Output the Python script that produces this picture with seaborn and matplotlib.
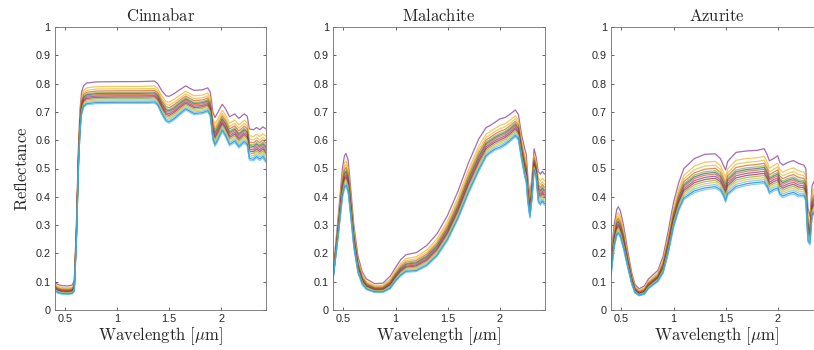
# Reflectance spectra of three pigments (MATLAB-style figure redrawn with seaborn)
import numpy as np
import pandas as pd
import matplotlib
matplotlib.use('Agg')
import matplotlib.pyplot as plt
import seaborn as sns

# upper / lower envelope of each bundle of spectra
cinnabar_wl = [0.40, 0.43, 0.47, 0.53, 0.57, 0.59, 0.61, 0.63, 0.645, 0.66, 0.68, 0.71, 0.80, 1.00,
               1.20, 1.30, 1.36, 1.39, 1.43, 1.47, 1.50, 1.55, 1.60, 1.66, 1.70, 1.74, 1.82, 1.87,
               1.895, 1.92, 1.94, 1.97, 2.01, 2.04, 2.08, 2.13, 2.17, 2.22, 2.25, 2.27, 2.31, 2.34,
               2.37, 2.40, 2.43]
cinnabar_hi = [0.100, 0.090, 0.086, 0.085, 0.088, 0.105, 0.300, 0.580, 0.710, 0.770, 0.793, 0.802,
               0.806, 0.807, 0.807, 0.808, 0.809, 0.800, 0.775, 0.757, 0.755, 0.765, 0.778, 0.792,
               0.783, 0.776, 0.778, 0.785, 0.770, 0.700, 0.680, 0.700, 0.727, 0.712, 0.683, 0.693,
               0.677, 0.693, 0.685, 0.640, 0.637, 0.645, 0.637, 0.647, 0.640]
cinnabar_lo = [0.068, 0.060, 0.056, 0.055, 0.057, 0.065, 0.240, 0.500, 0.630, 0.690, 0.716, 0.725,
               0.729, 0.730, 0.730, 0.730, 0.731, 0.722, 0.690, 0.665, 0.660, 0.672, 0.688, 0.706,
               0.698, 0.690, 0.693, 0.700, 0.684, 0.600, 0.578, 0.598, 0.630, 0.612, 0.580, 0.592,
               0.572, 0.590, 0.580, 0.530, 0.527, 0.537, 0.528, 0.537, 0.520]

malachite_wl = [0.40, 0.45, 0.49, 0.51, 0.525, 0.545, 0.57, 0.60, 0.64, 0.68, 0.72, 0.80, 0.88, 0.95,
                1.00, 1.05, 1.10, 1.20, 1.30, 1.40, 1.50, 1.60, 1.70, 1.80, 1.87, 1.90, 1.95, 2.00,
                2.05, 2.10, 2.15, 2.18, 2.21, 2.24, 2.255, 2.27, 2.29, 2.31, 2.33, 2.35, 2.37, 2.39,
                2.41, 2.43]
malachite_hi = [0.130, 0.330, 0.500, 0.545, 0.553, 0.530, 0.430, 0.300, 0.190, 0.135, 0.110, 0.093,
                0.095, 0.120, 0.150, 0.178, 0.195, 0.203, 0.228, 0.270, 0.335, 0.420, 0.520, 0.605,
                0.645, 0.650, 0.662, 0.675, 0.680, 0.692, 0.707, 0.690, 0.620, 0.570, 0.550, 0.470,
                0.400, 0.470, 0.570, 0.540, 0.490, 0.480, 0.490, 0.480]
malachite_lo = [0.105, 0.260, 0.395, 0.428, 0.435, 0.415, 0.330, 0.220, 0.130, 0.090, 0.072, 0.062,
                0.062, 0.075, 0.100, 0.120, 0.133, 0.136, 0.155, 0.190, 0.245, 0.320, 0.410, 0.490,
                0.540, 0.550, 0.563, 0.570, 0.580, 0.595, 0.612, 0.600, 0.530, 0.470, 0.450, 0.380,
                0.325, 0.390, 0.490, 0.465, 0.380, 0.370, 0.380, 0.370]

azurite_wl = [0.40, 0.43, 0.455, 0.47, 0.49, 0.52, 0.56, 0.60, 0.63, 0.67, 0.72, 0.76, 0.85, 0.90,
              0.95, 1.00, 1.05, 1.10, 1.20, 1.30, 1.40, 1.45, 1.48, 1.50, 1.52, 1.60, 1.70, 1.80,
              1.87, 1.90, 1.92, 1.96, 2.00, 2.02, 2.05, 2.10, 2.15, 2.20, 2.25, 2.27, 2.29, 2.31,
              2.33, 2.35, 2.37, 2.40, 2.43]
azurite_hi = [0.190, 0.300, 0.355, 0.365, 0.350, 0.300, 0.210, 0.130, 0.090, 0.075, 0.085, 0.110,
              0.140, 0.190, 0.280, 0.380, 0.450, 0.500, 0.535, 0.550, 0.552, 0.535, 0.510, 0.495,
              0.525, 0.557, 0.562, 0.564, 0.570, 0.548, 0.527, 0.535, 0.545, 0.522, 0.512, 0.522,
              0.528, 0.518, 0.512, 0.500, 0.360, 0.330, 0.440, 0.455, 0.400, 0.380, 0.370]
azurite_lo = [0.120, 0.220, 0.260, 0.268, 0.255, 0.215, 0.150, 0.090, 0.060, 0.050, 0.055, 0.075,
              0.100, 0.130, 0.200, 0.290, 0.350, 0.390, 0.415, 0.425, 0.430, 0.420, 0.400, 0.380,
              0.405, 0.430, 0.440, 0.445, 0.447, 0.430, 0.410, 0.420, 0.425, 0.405, 0.397, 0.405,
              0.410, 0.400, 0.400, 0.385, 0.240, 0.230, 0.330, 0.340, 0.280, 0.250, 0.230]

# where each spectrum sits inside its bundle (1 = top, 0 = bottom), listed top to bottom
line_level = [1.00, 0.78, 0.67, 0.58, 0.51, 0.46, 0.41, 0.35, 0.29, 0.23, 0.17, 0.11, 0.05, 0.00]
line_colors = ['#7E2F8E', '#EDB120', '#EDB120', '#D95319', '#77AC30', '#1f5f6f', '#D95319',
               '#7E2F8E', '#A2142F', '#77AC30', '#EDB120', '#4DBEEE', '#0072BD', '#4DBEEE']

panels = [('Cinnabar', cinnabar_wl, cinnabar_hi, cinnabar_lo),
          ('Malachite', malachite_wl, malachite_hi, malachite_lo),
          ('Azurite', azurite_wl, azurite_hi, azurite_lo)]


def spectra_frame(wl, hi, lo):
    rows = []
    for k, lev in enumerate(line_level):
        for w, h, l in zip(wl, hi, lo):
            rows.append({'line': k, 'Wavelength': w, 'Reflectance': l + lev * (h - l)})
    return pd.DataFrame(rows)


sns.set_style('ticks')
plt.rcParams['font.family'] = ['Liberation Sans', 'DejaVu Sans']
plt.rcParams['mathtext.fontset'] = 'cm'

fig = plt.figure(figsize=(8.14, 3.5), dpi=100)
lefts = [54.5 / 814, 333 / 814, 611 / 814]
width = 211.5 / 814
bottom = 40 / 350
height = 283 / 350

txt = '#262626'
for i, (name, wl, hi, lo) in enumerate(panels):
    ax = fig.add_axes([lefts[i], bottom, width, height])
    df = spectra_frame(wl, hi, lo)
    sns.lineplot(data=df, x='Wavelength', y='Reflectance', hue='line',
                 palette=line_colors, linewidth=0.9, alpha=0.7,
                 legend=False, ax=ax, estimator=None, sort=False)
    ax.set_xlim(0.4, 2.43)
    ax.set_ylim(0, 1)
    ax.set_xticks([0.5, 1, 1.5, 2])
    ax.set_xticklabels(['0.5', '1', '1.5', '2'])
    ax.set_yticks(np.arange(0, 1.01, 0.1))
    ax.set_yticklabels(['0', '0.1', '0.2', '0.3', '0.4', '0.5', '0.6', '0.7', '0.8', '0.9', '1'])
    ax.tick_params(direction='in', length=2.2, width=0.5, labelsize=7.8, colors=txt,
                   top=True, right=True, pad=3)
    for sp in ax.spines.values():
        sp.set_visible(True)
        sp.set_linewidth(0.6)
        sp.set_color('#6e6e6e')
    ax.set_title(r'$\mathrm{%s}$' % name, fontsize=12, color=txt, pad=4)
    ax.set_xlabel(r'$\mathrm{Wavelength\ [}\mu\mathrm{m]}$', fontsize=12, color=txt, labelpad=1)
    if i == 0:
        ax.set_ylabel(r'$\mathrm{Reflectance}$', fontsize=12, color=txt, labelpad=4)
    else:
        ax.set_ylabel('')

fig.savefig('out.png', dpi=100)
